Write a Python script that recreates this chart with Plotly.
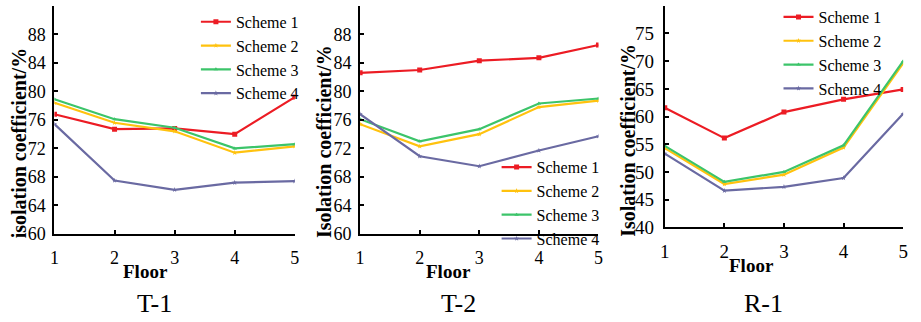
import plotly.graph_objects as go

floors = [1, 2, 3, 4, 5]
scheme_names = ["Scheme 1", "Scheme 2", "Scheme 3", "Scheme 4"]

t1_s1 = [76.8, 74.7, 74.8, 74.0, 79.2]
t1_s2 = [78.4, 75.6, 74.4, 71.4, 72.3]
t1_s3 = [78.9, 76.1, 74.9, 72.0, 72.6]
t1_s4 = [75.4, 67.5, 66.2, 67.2, 67.4]

t2_s1 = [82.6, 83.0, 84.3, 84.7, 86.5]
t2_s2 = [75.4, 72.3, 74.0, 77.8, 78.7]
t2_s3 = [76.1, 73.0, 74.7, 78.3, 79.0]
t2_s4 = [76.8, 70.9, 69.5, 71.7, 73.7]

r1_s1 = [61.6, 56.1, 60.8, 63.1, 64.9]
r1_s2 = [54.3, 47.8, 49.5, 54.4, 69.6]
r1_s3 = [54.7, 48.2, 50.0, 54.8, 70.0]
r1_s4 = [53.3, 46.6, 47.3, 48.9, 60.5]

panel_titles = ["T-1", "T-2", "R-1"]
y_titles = ["isolation coefficient/%", "Isolation coefficient/%", "Isolation coefficient/%"]
x_title = "Floor"

t_ticks = [60, 64, 68, 72, 76, 80, 84, 88, 92]
t_ticklabels = ["60", "64", "68", "72", "76", "80", "84", "88", ""]
r_ticks = [40, 45, 50, 55, 60, 65, 70, 75, 80]
r_ticklabels = ["40", "45", "50", "55", "60", "65", "70", "75", ""]

colors = ["#EC1C24", "#FFC20E", "#3CC46A", "#6A6AA2"]
symbols = ["square", "star", "triangle-up", "star"]
msizes = [5, 4, 4, 4]

W, H = 921, 322
FONT = "Liberation Serif, Times New Roman, serif"

panels = [
    dict(data=[t1_s1, t1_s2, t1_s3, t1_s4], x0=50, x1=293, ybot=242, ytop=5,
         ticks=t_ticks, labels=t_ticklabels, rng=[60, 92], legx=193, legy=4,
         ytx=14, yty=147, flx=142, fly=281, ttx=151, tfs=18, tso=3),
    dict(data=[t2_s1, t2_s2, t2_s3, t2_s4], x0=359, x1=600, ybot=242, ytop=5,
         ticks=t_ticks, labels=t_ticklabels, rng=[60, 92], legx=497, legy=155,
         ytx=322, yty=146, flx=448, fly=281, ttx=458, tfs=18, tso=3),
    dict(data=[r1_s1, r1_s2, r1_s3, r1_s4], x0=667, x1=908, ybot=235, ytop=5,
         ticks=r_ticks, labels=r_ticklabels, rng=[40, 80], legx=782, legy=-1,
         ytx=629, yty=145, flx=755, fly=275, ttx=767, tfs=19, tso=5),
]

fig = go.Figure()
layout = dict(
    width=W, height=H, margin=dict(l=0, r=0, t=0, b=0),
    paper_bgcolor="white", plot_bgcolor="white",
    font=dict(family=FONT, color="black"),
    annotations=[],
)

for i, p in enumerate(panels):
    k = "" if i == 0 else str(i + 1)
    lg = "legend" if i == 0 else "legend" + str(i + 1)
    for j in range(4):
        fig.add_trace(go.Scatter(
            x=floors, y=p["data"][j], name=scheme_names[j], mode="lines+markers",
            line=dict(color=colors[j], width=2.2),
            marker=dict(symbol=symbols[j], size=msizes[j], color=colors[j]),
            xaxis="x" + k, yaxis="y" + k, legend=lg,
        ))
    layout["xaxis" + k] = dict(
        domain=[p["x0"] / W, p["x1"] / W], anchor="y" + k, range=[1, 5],
        tickvals=floors, ticks="inside", ticklen=4, tickwidth=1.5, tickcolor="black",
        showline=True, linecolor="black", linewidth=2, showgrid=False, zeroline=False,
        tickfont=dict(size=p["tfs"], family=FONT), ticklabelstandoff=6,
    )
    layout["yaxis" + k] = dict(
        domain=[1 - p["ybot"] / H, 1 - p["ytop"] / H], anchor="x" + k, range=p["rng"],
        tickvals=p["ticks"], ticktext=p["labels"], ticks="inside", ticklen=4, tickwidth=1.5,
        tickcolor="black", showline=True, linecolor="black", linewidth=2,
        showgrid=False, zeroline=False, tickfont=dict(size=p["tfs"], family=FONT),
        ticklabelstandoff=p["tso"],
    )
    layout[lg] = dict(
        x=p["legx"] / W, y=1 - p["legy"] / H, xanchor="left", yanchor="top",
        bgcolor="rgba(0,0,0,0)", font=dict(size=16, family=FONT),
        tracegroupgap=0, itemwidth=30,
    )
    layout["annotations"] += [
        dict(text=panel_titles[i], xref="paper", yref="paper",
             x=p["ttx"] / W, y=1 - 314 / H, xanchor="center", yanchor="middle",
             showarrow=False, font=dict(size=26, family=FONT)),
        dict(text="<b>" + x_title + "</b>", xref="paper", yref="paper",
             x=p["flx"] / W, y=1 - p["fly"] / H, xanchor="center", yanchor="middle",
             showarrow=False, font=dict(size=19, family=FONT)),
        dict(text="<b>" + y_titles[i] + "</b>", xref="paper", yref="paper",
             x=p["ytx"] / W, y=1 - p["yty"] / H, xanchor="center", yanchor="middle",
             textangle=-90, showarrow=False, font=dict(size=20, family=FONT)),
    ]

fig.update_layout(**layout)
fig.write_html("out.html")
